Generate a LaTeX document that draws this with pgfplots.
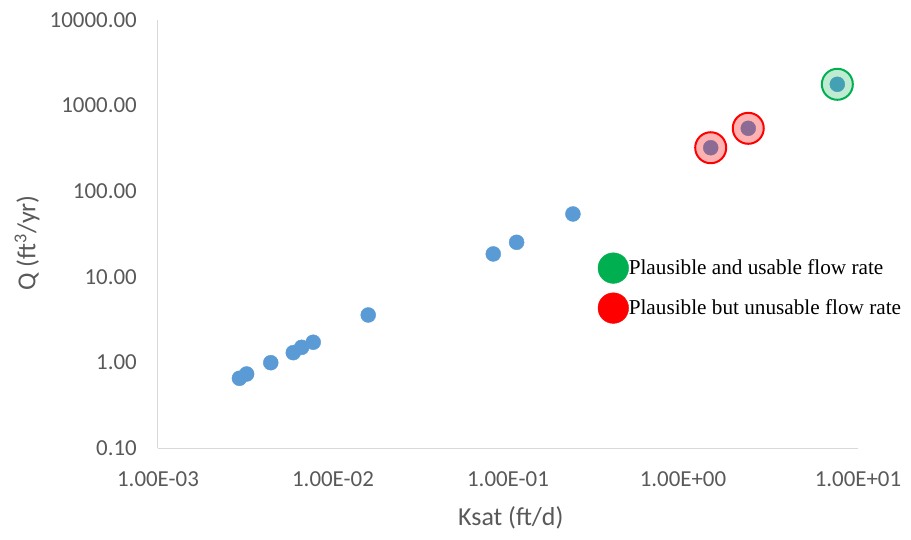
\documentclass[border=0pt]{standalone}
\usepackage{fontspec}
\setmainfont{Carlito}
\newfontfamily\tnr{Liberation Serif}
\usepackage{pgfplots}
\pgfplotsset{compat=1.18}
\definecolor{dotblue}{HTML}{5B9BD5}
\definecolor{okgreen}{HTML}{00B050}
\definecolor{txtgray}{HTML}{595959}
\definecolor{axgray}{HTML}{D9D9D9}
\begin{document}
\begin{tikzpicture}
\path[use as bounding box] (0,0) rectangle (911bp,540bp);
\begin{axis}[
    at={(158bp,92bp)}, anchor=south west,
    scale only axis, width=700bp, height=428bp,
    xmode=log, ymode=log,
    xmin=1e-3, xmax=10, ymin=0.1, ymax=10000,
    axis x line=bottom, axis y line=left,
    axis line style={draw=axgray, line width=1bp, -},
    major tick length=0pt, minor tick length=0pt,
    tick style={draw=none},
    xtick={0.001,0.01,0.1,1,10},
    xticklabels={1.00E-03,1.00E-02,1.00E-01,1.00E+00,1.00E+01},
    ytick={0.1,1,10,100,1000,10000},
    yticklabels={0.10,1.00,10.00,100.00,1000.00,10000.00},
    tick label style={font=\fontsize{23}{27}\selectfont, text=txtgray, inner sep=0pt},
    xticklabel style={anchor=center, yshift=-31bp},
    yticklabel style={anchor=east, xshift=-21bp},
    xlabel={Ksat (ft/d)},
    ylabel={Q (ft\textsuperscript{3}/yr)},
    label style={font=\fontsize{26}{31}\selectfont, text=txtgray},
    xlabel style={at={(axis description cs:0.504,-0.1636)}, anchor=center},
    ylabel style={at={(axis description cs:-0.1871,0.479)}, anchor=center},
    legend style={draw=none, fill=none, inner sep=0pt,
        font=\tnr\fontsize{21.3}{25}\selectfont,
        at={(axis description cs:0.628,0.457)}, anchor=north west,
        row sep=9bp, nodes={inner sep=0pt},
        /tikz/every even column/.append style={column sep=4bp}},
    legend cell align=left,
]
% all measured points
\addplot[forget plot, only marks, mark=*, mark size=7.5bp,
    mark options={draw=dotblue, fill=dotblue}] coordinates {
    (0.00292,0.652) (0.00321,0.732) (0.00441,0.992) (0.00593,1.30)
    (0.00662,1.50) (0.00771,1.72) (0.0159,3.58) (0.0824,18.5)
    (0.112,25.3) (0.235,54.2) (1.44,322) (2.36,543) (7.62,1774)};
% highlighted: plausible but unusable
\addplot[forget plot, only marks, mark=*, mark size=15.5bp,
    mark options={draw=red, line width=2bp, fill=red, fill opacity=0.3}]
    coordinates {(1.44,322) (2.36,543)};
% highlighted: plausible and usable
\addplot[forget plot, only marks, mark=*, mark size=15.5bp,
    mark options={draw=okgreen, line width=2bp, fill=okgreen, fill opacity=0.25}]
    coordinates {(7.62,1774)};
\addlegendimage{legend image code/.code={\fill[okgreen] (0bp,0bp) circle (15.3bp);}}
\addlegendentry{Plausible and usable flow rate}
\addlegendimage{legend image code/.code={\fill[red] (0bp,0bp) circle (15.3bp);}}
\addlegendentry{Plausible but unusable flow rate}
\end{axis}
\end{tikzpicture}
\end{document}
